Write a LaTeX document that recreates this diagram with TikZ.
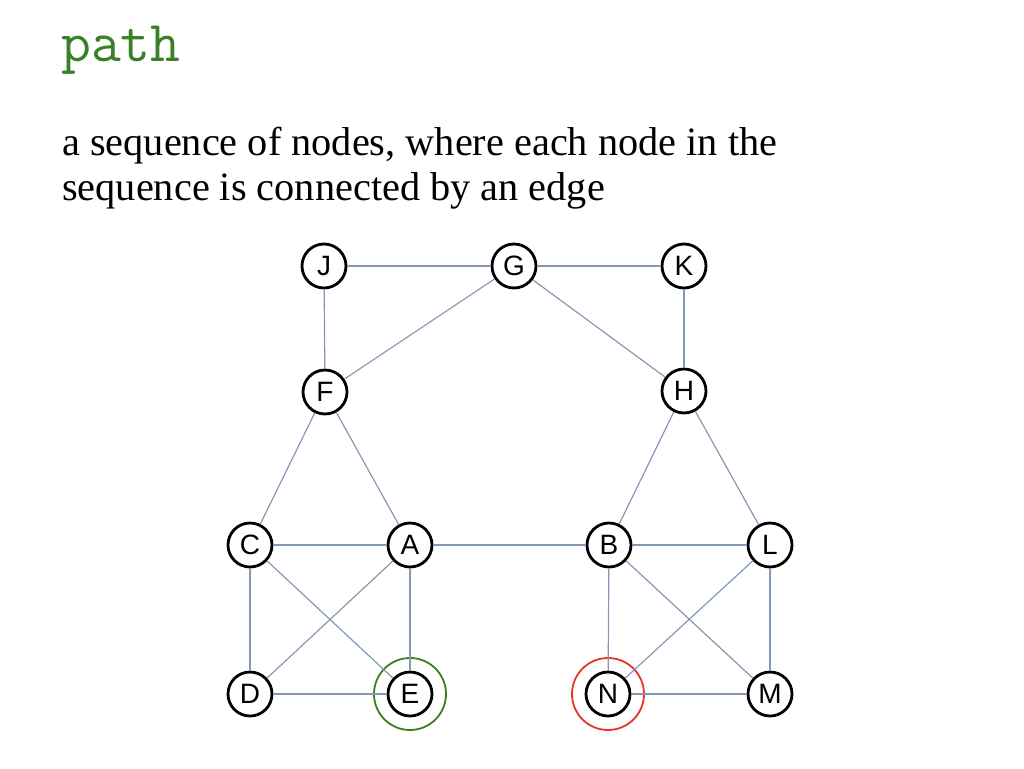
\documentclass[tikz,border=0pt]{standalone}
\usepackage{fontspec}
\setmainfont{Liberation Serif}
\newfontfamily\nodefont{Liberation Sans}
\definecolor{edgecol}{RGB}{132,152,182}
\definecolor{titlegreen}{RGB}{58,128,40}
\definecolor{ringgreen}{RGB}{60,125,35}
\definecolor{ringred}{RGB}{232,52,40}
\begin{document}
\begin{tikzpicture}[x=1pt,y=-1pt,
  vtx/.style={circle,draw=black,line width=2.8pt,fill=white,minimum size=44pt,inner sep=0pt,font=\nodefont\fontsize{28}{28}\selectfont},
  edge/.style={draw=edgecol,line width=1.2pt},
  ring/.style={circle,line width=1.8pt,minimum size=72pt,inner sep=0pt}]
\useasboundingbox (0,0) rectangle (1024,768);
\node[anchor=base west,inner sep=0pt,text=titlegreen,font=\ttfamily\fontsize{58}{58}\selectfont] (title) at (61,61) {path};
\node[anchor=base west,inner sep=0pt,font=\fontsize{40.3}{45}\selectfont] (desc1) at (62,155) {a sequence of nodes, where each node in the};
\node[anchor=base west,inner sep=0pt,font=\fontsize{40.3}{45}\selectfont] (desc2) at (62,200) {sequence is connected by an edge};
\node[ring,draw=ringgreen] (ringE) at (410,694) {};
\node[ring,draw=ringred] (ringN) at (608,694) {};
\node[vtx] (J) at (324,266) {J};
\node[vtx] (G) at (514,266) {G};
\node[vtx] (K) at (684,266) {K};
\node[vtx] (F) at (325,392) {\raisebox{-4pt}{F}};
\node[vtx] (H) at (684,391) {H};
\node[vtx] (C) at (250,545) {C};
\node[vtx] (A) at (410,545) {A};
\node[vtx] (B) at (609,545) {B};
\node[vtx] (L) at (770,545) {L};
\node[vtx] (D) at (250,694) {D};
\node[vtx] (E) at (410,694) {E};
\node[vtx] (N) at (608,694) {N};
\node[vtx] (M) at (770,694) {M};
\foreach \a/\b in {J/G,G/K,J/F,G/F,G/H,K/H,F/C,F/A,H/B,H/L,C/A,A/B,B/L,C/D,C/E,A/D,A/E,D/E,B/N,B/M,L/N,L/M,N/M}
  \path[edge] (\a) -- (\b);
\end{tikzpicture}
\end{document}
